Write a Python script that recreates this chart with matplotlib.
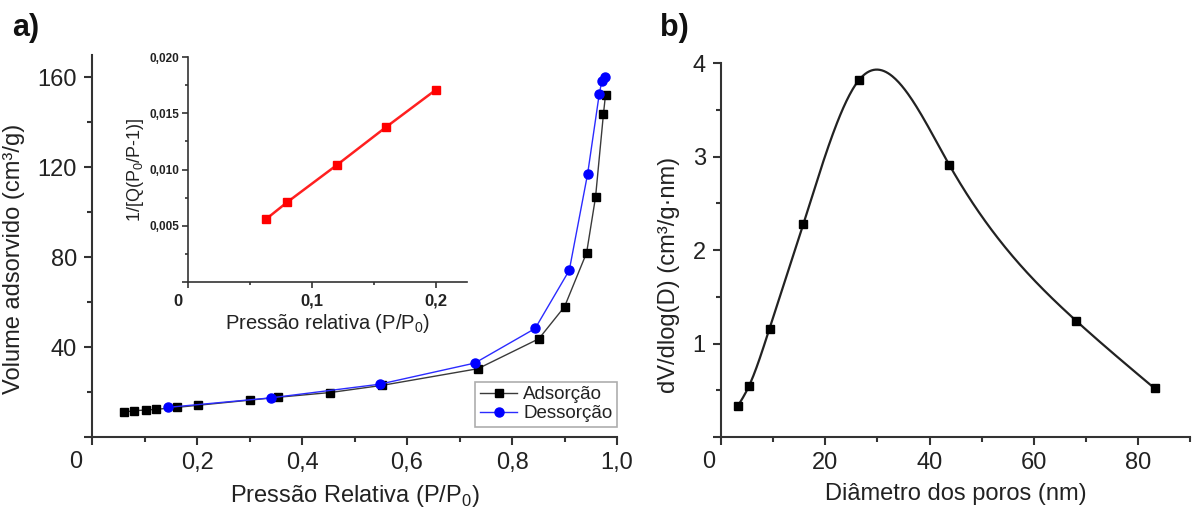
import numpy as np
import matplotlib
matplotlib.use('Agg')
import matplotlib.pyplot as plt
from matplotlib.ticker import MultipleLocator, FuncFormatter

plt.rcParams['font.family'] = ['Liberation Sans', 'DejaVu Sans']
plt.rcParams['mathtext.fontset'] = 'custom'
plt.rcParams['mathtext.rm'] = 'Liberation Sans'

# a) isotherm
ads_x = [0.061, 0.080, 0.102, 0.122, 0.162, 0.201, 0.300, 0.355, 0.454, 0.553,
         0.735, 0.851, 0.900, 0.942, 0.959, 0.974, 0.978]
ads_y = [11.1, 11.7, 12.0, 12.3, 13.2, 14.1, 16.4, 17.7, 19.8, 23.0,
         30.4, 43.7, 58.0, 82.0, 106.7, 143.6, 152.3]
des_x = [0.145, 0.340, 0.548, 0.729, 0.844, 0.909, 0.944, 0.966, 0.971, 0.977]
des_y = [13.2, 17.4, 23.5, 32.9, 48.3, 74.2, 117.2, 152.5, 158.4, 160.4]

# inset BET
bet_x = [0.063, 0.080, 0.120, 0.160, 0.200]
bet_y = [0.0056, 0.0071, 0.0104, 0.0138, 0.0171]

# b) pore size distribution
pore_d = [3.2, 5.4, 9.3, 15.8, 26.5, 43.8, 68.2, 83.2]
pore_v = [0.33, 0.55, 1.16, 2.28, 3.82, 2.91, 1.24, 0.52]

TXT = '#222222'
AX = '#333333'


def spline(x, y, xs):
    # natural cubic spline, only used to draw the smooth connecting line
    x = np.asarray(x, float); y = np.asarray(y, float)
    n = len(x)
    h = np.diff(x)
    A = np.zeros((n, n)); r = np.zeros(n)
    A[0, 0] = A[-1, -1] = 1
    for i in range(1, n - 1):
        A[i, i - 1] = h[i - 1]; A[i, i] = 2 * (h[i - 1] + h[i]); A[i, i + 1] = h[i]
        r[i] = 3 * ((y[i + 1] - y[i]) / h[i] - (y[i] - y[i - 1]) / h[i - 1])
    c = np.linalg.solve(A, r)
    b = (y[1:] - y[:-1]) / h - h * (2 * c[:-1] + c[1:]) / 3
    d = (c[1:] - c[:-1]) / (3 * h)
    idx = np.clip(np.searchsorted(x, xs) - 1, 0, n - 2)
    dx = xs - x[idx]
    return y[idx] + b[idx] * dx + c[idx] * dx ** 2 + d[idx] * dx ** 3


def style(ax, size=17, lw=1.5, major=6, minor=3.5):
    for s in ['top', 'right']:
        ax.spines[s].set_visible(False)
    for s in ['left', 'bottom']:
        ax.spines[s].set_color(AX)
        ax.spines[s].set_linewidth(lw)
    ax.tick_params(which='both', direction='out', color=AX, width=lw)
    ax.tick_params(which='major', length=major, labelsize=size, labelcolor=TXT, pad=5)
    ax.tick_params(which='minor', length=minor)


def comma(fmt):
    return FuncFormatter(lambda v, p: '' if abs(v) < 1e-12 else (fmt % v).replace('.', ','))


fig = plt.figure(figsize=(11.94, 5.16), dpi=100)

# ---- panel a ----
ax1 = fig.add_axes([0.0771, 0.1531, 0.4397, 0.7403])
ax1.plot(ads_x, ads_y, color='#3a3a3a', lw=1.0, marker='s', ms=6,
         mfc='black', mec='black', label='Adsorção', zorder=3)
ax1.plot(des_x, des_y, color='#2b2bff', lw=1.0, marker='o', ms=6.5,
         mfc='#0000ff', mec='#0000ff', label='Dessorção', zorder=4)
ax1.set_xlim(0, 1.0)
ax1.set_ylim(0, 170)
ax1.xaxis.set_major_locator(MultipleLocator(0.2))
ax1.xaxis.set_minor_locator(MultipleLocator(0.1))
ax1.yaxis.set_major_locator(MultipleLocator(40))
ax1.yaxis.set_minor_locator(MultipleLocator(20))
ax1.xaxis.set_major_formatter(comma('%.1f'))
ax1.yaxis.set_major_formatter(comma('%d'))
style(ax1)
ax1.text(-0.032, -0.065, '0', transform=ax1.transAxes, fontsize=17, color=TXT,
         ha='center', va='center')
ax1.set_xlabel('Pressão Relativa (P/P$_\\mathregular{0}$)', fontsize=17, color=TXT, labelpad=6)
ax1.set_ylabel('Volume adsorvido (cm³/g)', fontsize=17, color=TXT)
ax1.yaxis.set_label_coords(-0.128, 0.467)
leg = ax1.legend(loc='lower right', bbox_to_anchor=(1.0, 0.026), borderaxespad=0,
                 fontsize=13.5, frameon=True, fancybox=False, handlelength=2.0,
                 handletextpad=0.3, borderpad=0.25, labelspacing=0.1)
leg.get_frame().set_edgecolor('#999999')
leg.get_frame().set_linewidth(1.2)
for t in leg.get_texts():
    t.set_color(TXT)
fig.text(0.010, 0.93, 'a)', fontsize=22, fontweight='bold', color='#111111')

# ---- inset ----
ax2 = fig.add_axes([0.1575, 0.4535, 0.2337, 0.436])
ax2.plot(bet_x, bet_y, color='#ff2020', lw=1.8, marker='s', ms=5.5,
         mfc='#ff0000', mec='#ff0000')
ax2.set_xlim(0, 0.225)
ax2.set_ylim(0, 0.020)
ax2.xaxis.set_major_locator(MultipleLocator(0.1))
ax2.xaxis.set_minor_locator(MultipleLocator(0.05))
ax2.yaxis.set_major_locator(MultipleLocator(0.005))
ax2.yaxis.set_minor_locator(MultipleLocator(0.0025))
ax2.xaxis.set_major_formatter(comma('%.1f'))
ax2.yaxis.set_major_formatter(comma('%.3f'))
style(ax2, size=12, lw=1.2, major=4, minor=2.5)
ax2.tick_params(axis='y', labelsize=8.5, pad=2)
ax2.tick_params(axis='x', pad=4)
for t in ax2.xaxis.get_major_ticks() + ax2.yaxis.get_major_ticks():
    t.label1.set_fontweight('bold')
ax2.text(-0.035, -0.085, '0', transform=ax2.transAxes, fontsize=12, fontweight='bold',
         color=TXT, ha='center', va='center')
ax2.set_xlabel('Pressão relativa (P/P$_\\mathregular{0}$)', fontsize=14.5, color=TXT, labelpad=3)
ax2.set_ylabel('1/[Q(P$_\\mathregular{0}$/P-1)]', fontsize=13, color=TXT, labelpad=3)
ax2.patch.set_alpha(0)

# ---- panel b ----
ax3 = fig.add_axes([0.6039, 0.1531, 0.3928, 0.7248])
xs = np.linspace(pore_d[0], pore_d[-1], 400)
ax3.plot(xs, spline(pore_d, pore_v, xs), color='#222222', lw=1.6)
ax3.plot(pore_d, pore_v, ls='none', marker='s', ms=6, mfc='black', mec='black')
ax3.set_xlim(0, 90)
ax3.set_ylim(0, 4)
ax3.xaxis.set_major_locator(MultipleLocator(20))
ax3.xaxis.set_minor_locator(MultipleLocator(10))
ax3.yaxis.set_major_locator(MultipleLocator(1))
ax3.yaxis.set_minor_locator(MultipleLocator(0.5))
ax3.xaxis.set_major_formatter(comma('%d'))
ax3.yaxis.set_major_formatter(comma('%d'))
style(ax3)
ax3.text(-0.027, -0.068, '0', transform=ax3.transAxes, fontsize=17, color=TXT,
         ha='center', va='center')
ax3.set_xlabel('Diâmetro dos poros (nm)', fontsize=17, color=TXT, labelpad=6)
ax3.set_ylabel('dV/dlog(D) (cm³/g·nm)', fontsize=17, color=TXT)
ax3.yaxis.set_label_coords(-0.087, 0.434)
fig.text(0.553, 0.93, 'b)', fontsize=22, fontweight='bold', color='#111111')

fig.savefig('out.png', dpi=100)
